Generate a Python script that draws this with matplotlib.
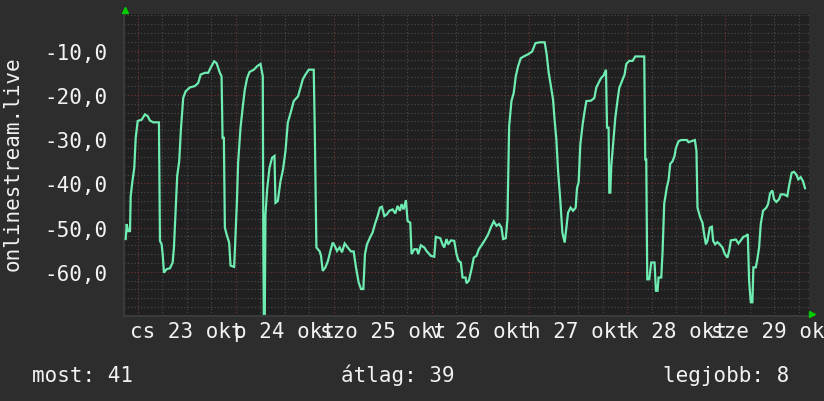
import matplotlib
matplotlib.use("Agg")
import matplotlib.pyplot as plt
import numpy as np

# hours since 23 okt 00:00
hours = [
    -3.01, -2.77, -2.45, -1.96, -1.79, -1.40, -0.91, -0.56, -0.07, 0.91,
    1.71, 2.38, 2.94, 3.75, 5.14, 5.39, 5.80, 6.05, 6.37, 7.03,
    7.84, 8.50, 8.82, 9.13, 9.62, 10.11, 10.53, 11.09, 11.68, 12.73,
    13.96, 14.77, 15.36, 16.41, 17.22, 17.80, 18.69, 19.27, 20.08, 20.50,
    20.74, 21.06, 21.31, 21.72, 22.36, 22.70, 23.58, 23.83, 24.25, 24.56,
    25.15, 25.71, 26.20, 26.77, 27.36, 28.41, 29.22, 30.05, 30.61, 30.74,
    30.86, 31.10, 31.27, 31.67, 32.25, 32.89, 33.48, 33.72, 34.29, 34.95,
    35.58, 36.17, 36.74, 37.54, 38.20, 39.26, 39.85, 40.41, 41.07, 41.88,
    43.10, 43.35, 43.76, 44.57, 44.89, 45.31, 45.97, 46.60, 47.19, 47.76,
    48.25, 48.81, 49.47, 50.03, 50.69, 51.43, 52.24, 52.90, 53.46, 54.12,
    54.69, 55.27, 55.67, 56.16, 56.99, 57.55, 58.12, 58.78, 59.34, 59.83,
    60.42, 61.05, 61.64, 62.45, 63.11, 63.67, 64.24, 64.65, 65.14, 65.71,
    66.12, 66.78, 67.10, 67.76, 68.40, 68.74, 69.38, 70.21, 70.85, 71.83,
    72.66, 73.05, 74.13, 74.69, 75.11, 75.67, 76.09, 76.73, 77.56, 78.12,
    78.61, 79.18, 79.60, 80.33, 80.57, 81.14, 81.80, 82.36, 83.02, 83.58,
    84.42, 85.23, 85.89, 86.53, 87.26, 87.92, 88.58, 89.14, 89.56, 90.20,
    90.61, 91.03, 91.59, 92.16, 92.65, 93.23, 93.87, 94.60, 95.68, 96.66,
    97.47, 98.52, 99.75, 100.24, 100.73, 101.22, 101.80, 102.20, 102.61, 103.03,
    103.59, 104.08, 104.65, 105.06, 105.48, 106.11, 106.70, 107.34, 107.68, 108.07,
    108.49, 109.05, 109.47, 109.96, 111.11, 111.92, 112.41, 112.97, 113.56, 114.20,
    114.78, 115.03, 115.42, 115.59, 115.84, 116.08, 116.65, 117.06, 117.63, 118.04,
    118.70, 119.34, 119.76, 120.49, 121.30, 121.96, 124.16, 124.41, 124.66, 124.90,
    125.39, 125.88, 126.69, 127.03, 127.42, 127.67, 128.33, 128.65, 129.06, 129.72,
    130.12, 130.53, 131.10, 131.59, 131.93, 132.57, 133.23, 134.62, 135.01, 136.58,
    136.97, 137.22, 137.88, 138.44, 138.86, 139.27, 139.66, 140.25, 140.74, 141.06,
    141.55, 142.11, 142.70, 143.34, 143.93, 144.56, 144.98, 145.40, 146.62, 147.26,
    147.85, 148.48, 149.07, 149.56, 149.88, 150.29, 150.69, 150.93, 151.52, 151.91,
    152.33, 152.74, 153.31, 154.11, 154.53, 155.02, 155.58, 155.99, 156.56, 157.22,
    157.63, 158.44, 159.25, 159.67, 160.33, 160.89, 161.46, 161.95, 162.53, 163.10,
    163.59,
]
values = [
    -52.6, -49.2, -50.8, -50.8, -42.9, -39.8, -36.5, -29.7, -25.9, -25.6,
    -24.4, -24.8, -25.8, -26.2, -26.2, -53.0, -53.8, -56.0, -60.2, -59.4,
    -59.2, -57.9, -54.5, -48.1, -38.3, -35.0, -27.8, -20.7, -19.2, -18.3,
    -18.0, -17.3, -15.4, -15.0, -15.0, -13.9, -12.4, -12.8, -15.0, -15.8,
    -29.7, -29.7, -50.0, -51.5, -53.4, -58.6, -58.9, -53.8, -44.4, -35.3,
    -27.4, -22.6, -18.8, -16.2, -14.8, -14.3, -13.5, -13.0, -15.8, -54.5,
    -69.5, -69.5, -47.0, -41.4, -36.5, -34.2, -33.8, -44.4, -44.0, -39.5,
    -36.8, -32.7, -26.3, -23.7, -21.4, -20.3, -18.4, -16.5, -15.4, -14.3,
    -14.3, -27.4, -54.5, -55.4, -56.4, -59.8, -59.0, -57.5, -55.3, -53.4,
    -54.1, -55.3, -54.5, -55.6, -53.6, -54.5, -55.4, -55.4, -59.0, -62.4,
    -63.9, -63.9, -56.0, -53.8, -52.1, -51.1, -49.2, -47.4, -45.5, -45.3,
    -47.4, -47.0, -46.2, -45.9, -46.8, -45.1, -46.2, -44.7, -45.9, -43.8,
    -48.5, -48.9, -56.0, -54.9, -54.9, -56.0, -54.0, -54.5, -55.4, -56.4,
    -56.6, -52.1, -52.4, -53.8, -54.5, -52.6, -53.8, -52.9, -53.0, -56.0,
    -57.5, -57.9, -61.3, -61.3, -62.6, -62.0, -59.4, -56.8, -56.4, -54.9,
    -53.8, -52.6, -51.5, -50.0, -48.6, -49.6, -49.2, -50.0, -52.6, -52.4,
    -48.1, -27.1, -21.4, -19.5, -15.8, -13.5, -11.7, -11.3, -10.8, -10.2,
    -8.3, -8.1, -8.1, -10.9, -15.0, -17.7, -21.1, -25.9, -30.1, -37.2,
    -44.0, -51.1, -53.4, -50.0, -46.6, -45.5, -46.2, -45.5, -41.0, -39.8,
    -31.2, -26.7, -24.1, -21.4, -21.3, -20.7, -18.3, -17.3, -16.2, -15.6,
    -14.3, -27.4, -27.4, -42.1, -42.1, -36.1, -29.7, -25.2, -21.1, -18.4,
    -16.9, -15.4, -13.0, -12.3, -12.3, -11.3, -11.3, -34.6, -34.6, -61.7,
    -61.7, -57.9, -57.9, -64.3, -64.3, -61.3, -61.3, -55.6, -44.6, -40.8,
    -39.3, -35.6, -35.0, -33.8, -32.0, -30.5, -30.2, -30.2, -30.7, -30.2,
    -32.7, -45.5, -47.7, -48.9, -51.5, -53.8, -53.0, -50.0, -49.8, -53.0,
    -53.8, -53.3, -53.8, -54.5, -56.0, -56.8, -55.3, -52.9, -52.7, -53.6,
    -52.9, -52.1, -51.9, -51.5, -62.0, -66.9, -66.9, -59.0, -59.0, -57.1,
    -54.5, -49.2, -46.2, -45.5, -44.7, -42.3, -41.6, -43.6, -44.2, -43.6,
    -42.5, -42.5, -42.9, -40.6, -37.6, -37.4, -38.0, -39.1, -38.6, -39.5,
    -41.1,
]

day_labels = ["cs 23 okt", "p 24 okt", "szo 25 okt", "v 26 okt",
              "h 27 okt", "k 28 okt", "sze 29 okt"]
y_ticks = [-60, -50, -40, -30, -20, -10]
summary = ["most: 41", "átlag: 39", "legjobb: 8"]

W, H = 824, 402
BACK = "#2d2d2d"
CANVAS = "#202020"
FONT = "#f2f2f2"
LINE = "#6eecb2"
MINOR = "#4c4c4c"
MAJOR = "#7a3434"

plt.rcParams["font.family"] = ["DejaVu Sans Mono"]

fig = plt.figure(figsize=(W / 100, H / 100), dpi=100, facecolor=BACK)
ax = fig.add_axes([124 / W, 1 - 317 / H, 685 / W, 302 / H], facecolor=CANVAS)

ax.set_xlim(-3.43, 164.57)
ax.set_ylim(-70, -1.7)

ax.set_xticks(np.arange(0, 168, 24))
ax.set_xticks(np.arange(-0, 168, 6), minor=True)
ax.set_yticks(y_ticks)
ax.set_yticklabels([f"{v:.1f}".replace(".", ",") for v in y_ticks])
ax.set_yticks(np.arange(-70, 0, 2), minor=True)
ax.tick_params(axis="x", which="both", length=0, labelbottom=False)
ax.tick_params(axis="y", which="both", length=0, pad=12, labelsize=15,
               labelcolor=FONT)

dots = (0, (1, 2))
ax.grid(which="minor", color=MINOR, lw=0.8, ls=dots)
ax.grid(which="major", color=MAJOR, lw=0.8, ls=dots)
ax.set_axisbelow(True)

for side in ("top", "right"):
    ax.spines[side].set_visible(False)
for side in ("left", "bottom"):
    ax.spines[side].set_color("#3a3a3a")
    ax.spines[side].set_linewidth(1.5)

ax.plot(hours, values, color=LINE, lw=1.6, solid_joinstyle="miter", zorder=3)

# day labels sit at noon, rrdtool style (they overlap a bit)
for i, lab in enumerate(day_labels):
    ax.text(12 + 24 * i, -(338 - 317) / 302, lab, transform=ax.get_xaxis_transform(),
            ha="center", va="baseline", fontsize=15, color=FONT, clip_on=False)

fig.text(13 / W, 1 - 164 / H, "onlinestream.live", rotation=90,
         ha="center", va="center", fontsize=15, color=FONT)

for x, s in zip([32, 341, 663], summary):
    fig.text(x / W, 1 - 382 / H, s, ha="left", va="baseline",
             fontsize=15, color=FONT)

# little green arrow heads at the axis ends
fig.lines.append(matplotlib.lines.Line2D([125 / W], [1 - 11 / H], marker="^",
                 ms=5, color="#00cc00", transform=fig.transFigure))
fig.lines.append(matplotlib.lines.Line2D([812 / W], [1 - 315 / H], marker=">",
                 ms=5, color="#00cc00", transform=fig.transFigure))

fig.savefig("out.png", dpi=100, facecolor=BACK)
